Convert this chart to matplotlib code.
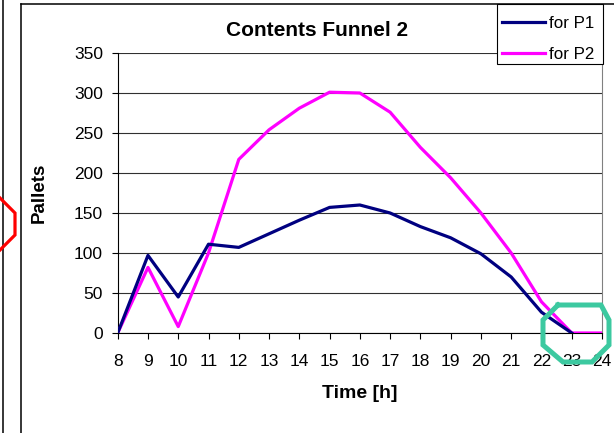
import matplotlib
matplotlib.use("Agg")
import matplotlib.pyplot as plt
from matplotlib.lines import Line2D
from matplotlib.patches import Rectangle

plt.rcParams["font.family"] = ["Liberation Sans", "DejaVu Sans"]

# ---------- DATA ----------
hours_p1 = [8, 9, 10, 11, 12, 13, 14, 15, 16, 17, 18, 19, 20, 21, 22, 23]
pallets_p1 = [0, 97, 45, 111, 107, 124, 141, 157, 160, 150, 133, 119, 99, 70, 26, 0]

hours_p2 = [8, 9, 10, 11, 12, 13, 14, 15, 16, 17, 18, 19, 20, 21, 22, 23, 24]
pallets_p2 = [0, 82, 8, 100, 217, 254, 281, 301, 300, 276, 232, 194, 150, 100, 39, 0, 0]

x_ticks = list(range(8, 25))
y_ticks = list(range(0, 351, 50))

W, H = 614, 433


def fx(px):
    return px / W


def fy(py):
    return 1 - py / H


fig = plt.figure(figsize=(6.14, 4.33), dpi=100)
ax = fig.add_axes([fx(117.7), fy(333), fx(602) - fx(117.7), fy(53) - fy(333)])

ax.plot(hours_p2, pallets_p2, color="#FF00FF", lw=2.3, label="for P2", zorder=3)
ax.plot(hours_p1, pallets_p1, color="#000080", lw=2.3, label="for P1", zorder=4)

ax.set_xlim(8, 24)
ax.set_ylim(0, 350)
ax.set_xticks(x_ticks)
ax.set_yticks(y_ticks)
ax.tick_params(axis="both", direction="out", length=4, width=0.8,
               colors="black", labelsize=12.5)
ax.tick_params(axis="y", pad=6.5)
ax.tick_params(axis="x", pad=11)

ax.yaxis.grid(True, color="#303030", lw=0.8)
ax.set_axisbelow(True)
ax.spines["top"].set_visible(False)
ax.spines["right"].set_color("#808080")
ax.spines["left"].set_color("black")
ax.spines["bottom"].set_color("black")

# axis titles and chart title
fig.text(fx(360), fy(393), "Time [h]", fontsize=14, fontweight="bold",
         ha="center", va="center")
fig.text(fx(39), fy(193), "Pallets", fontsize=13.5, fontweight="bold",
         ha="center", va="center", rotation=90)
fig.text(fx(317), fy(31), "Contents Funnel 2", fontsize=15,
         fontweight="bold", ha="center", va="center")

# legend in the top-right corner, box drawn separately
handles = [Line2D([], [], color="#000080", lw=2.3),
           Line2D([], [], color="#FF00FF", lw=2.3)]
fig.legend(handles, ["for P1", "for P2"],
           loc="upper left", bbox_to_anchor=(fx(501.7), fy(16)),
           fontsize=12.2, frameon=False, borderpad=0, labelspacing=0.95,
           handlelength=2.55, handletextpad=0.25, borderaxespad=0)
fig.add_artist(Rectangle((fx(496.7), fy(63.5)), fx(603.3) - fx(496.7),
                         fy(4) - fy(63.5), transform=fig.transFigure,
                         facecolor="white", edgecolor="black", lw=0.8,
                         zorder=0.5))

# chart frame and neighbouring chart edge
fig.add_artist(Line2D([fx(21), fx(21)], [fy(4), fy(433)], color="black",
                      lw=1.1, transform=fig.transFigure))
fig.add_artist(Line2D([fx(21), fx(614)], [fy(4), fy(4)], color="black",
                      lw=1.1, transform=fig.transFigure))
fig.add_artist(Line2D([fx(3), fx(3)], [fy(0), fy(433)], color="black",
                      lw=1.1, transform=fig.transFigure))

# highlight markers
red_x = [-10, 15, 15, -10]
red_y = [188, 213, 235, 260]
fig.add_artist(Line2D([fx(v) for v in red_x], [fy(v) for v in red_y],
                      color="red", lw=2.3, transform=fig.transFigure,
                      solid_joinstyle="miter"))

green_x = [558, 601, 609, 609, 592, 563, 543, 543, 558]
green_y = [305, 305, 320, 345, 362, 362, 345, 320, 305]
fig.add_artist(Line2D([fx(v) for v in green_x], [fy(v) for v in green_y],
                      color="#3CC9A0", lw=3.6, transform=fig.transFigure,
                      solid_joinstyle="miter"))

fig.savefig("out.png", dpi=100)
